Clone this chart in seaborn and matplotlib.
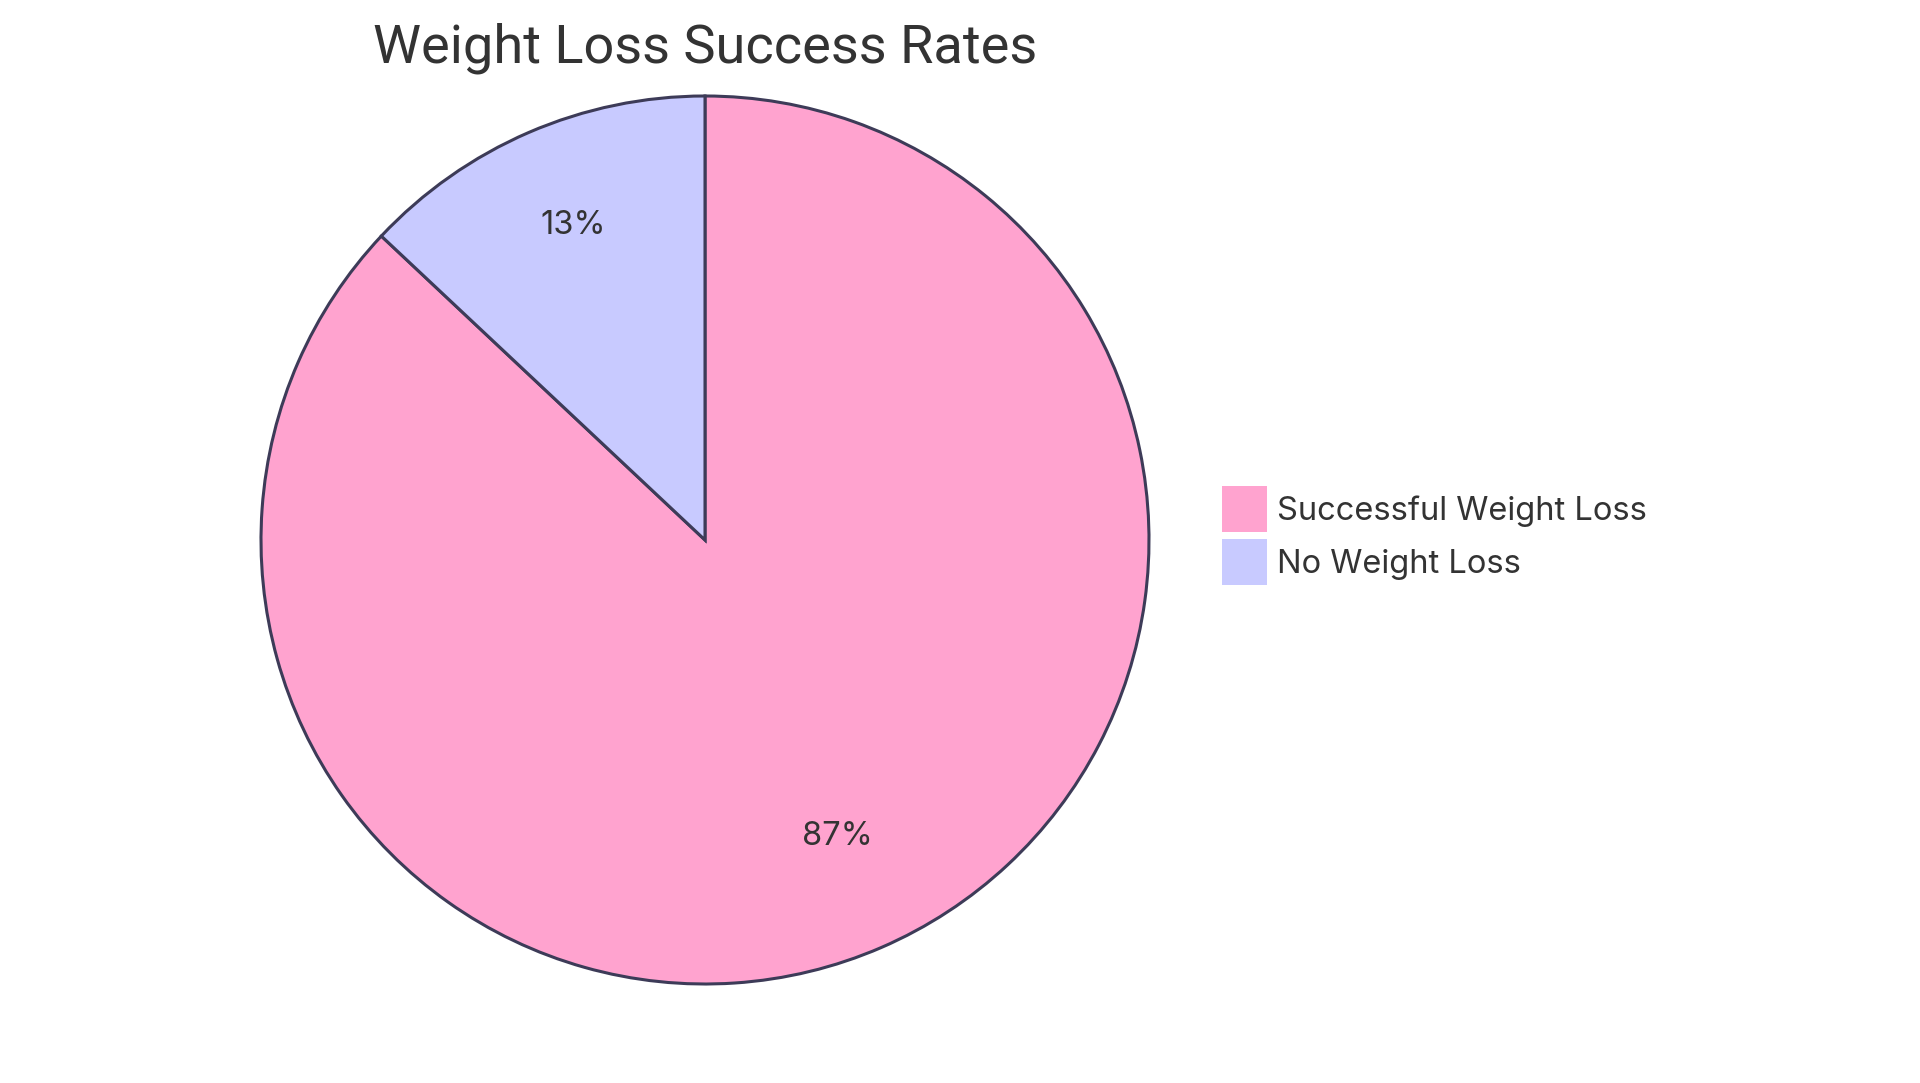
import matplotlib
matplotlib.use("Agg")
import matplotlib.pyplot as plt
import matplotlib.transforms as mtransforms
import seaborn as sns

categories = ["Successful Weight Loss", "No Weight Loss"]
values = [87, 13]
title = "Weight Loss Success Rates"

sns.set_theme(style="white")
plt.rcParams['font.family'] = ['Inter', 'DejaVu Sans']

colors = sns.color_palette(["#FFA3CF", "#C8CAFF"])
edge = "#3D3B58"
text_color = "#333333"

W, H = 1920, 1083
fig = plt.figure(figsize=(W / 100, H / 100), dpi=100)
fig.patch.set_facecolor("white")

cx, cy, r = 705, 543, 444
lim = 1.01
size = 2 * r * lim
ax = fig.add_axes([(cx - size / 2) / W, (cy - size / 2) / H, size / W, size / H])

wedges, texts, autotexts = ax.pie(
    values, colors=colors, startangle=90, counterclock=False,
    autopct=lambda p: f"{p:.0f}%", pctdistance=0.75,
    wedgeprops=dict(edgecolor=edge, linewidth=2.2),
    textprops=dict(color=text_color, fontsize=23.5),
)
for t in autotexts:
    t.set_transform(mtransforms.offset_copy(t.get_transform(), fig=fig,
                                            x=0, y=9, units="dots"))
ax.set_xlim(-lim, lim)
ax.set_ylim(-lim, lim)
ax.set_aspect("equal")
ax.axis("off")

fig.text(cx / W, 1 - 62 / H, title, ha="center", va="baseline",
         fontsize=39, color=text_color, family=["Roboto", "DejaVu Sans"])

fs = 23.5
leg = fig.legend(wedges, categories, loc="upper left",
                 bbox_to_anchor=(1222 / W, 1 - 486 / H),
                 frameon=False, fontsize=fs, borderpad=0, borderaxespad=0,
                 handlelength=1.38, handleheight=1.79, handletextpad=0.3,
                 labelspacing=0.215, labelcolor=text_color)
for h in leg.legend_handles:
    h.set_edgecolor("none")

fig.savefig("out.png", dpi=100, facecolor="white")
